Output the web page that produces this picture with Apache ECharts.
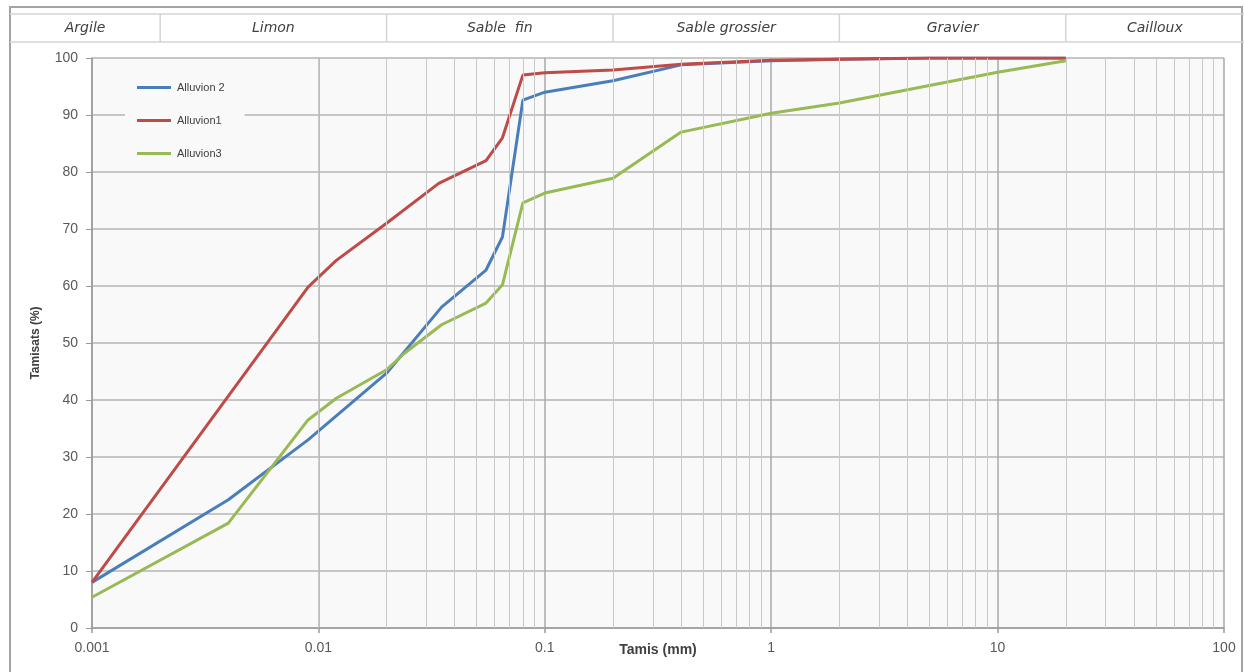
<!DOCTYPE html>
<html>
<head>
<meta charset="utf-8">
<script src="https://cdn.jsdelivr.net/npm/echarts@6/dist/echarts.min.js"></script>
<style>
  html, body { margin: 0; padding: 0; background: #ffffff; }
  #chart { width: 1244px; height: 672px; }
</style>
</head>
<body>
<div id="chart"></div>
<script>
// Grain-size distribution curves (passing % vs sieve size in mm)
const alluvion2Sizes = [0.001, 0.004, 0.009, 0.02, 0.035, 0.055, 0.065, 0.08, 0.1, 0.2, 0.4, 1, 2, 5, 20];
const alluvion2Pass  = [8, 22.5, 33, 44.7, 56.3, 62.8, 68.6, 92.6, 94, 96, 98.8, 99.5, 99.8, 100, 100];

const alluvion1Sizes = [0.001, 0.009, 0.012, 0.02, 0.034, 0.055, 0.065, 0.08, 0.1, 0.2, 0.4, 1, 2, 5, 20];
const alluvion1Pass  = [8, 59.8, 64.5, 71, 78, 82, 86, 97, 97.4, 97.9, 98.9, 99.6, 99.8, 100, 100];

const alluvion3Sizes = [0.001, 0.004, 0.009, 0.012, 0.02, 0.024, 0.035, 0.055, 0.065, 0.08, 0.1, 0.2, 0.4, 1, 2, 10, 20];
const alluvion3Pass  = [5.4, 18.4, 36.5, 40.3, 45.3, 48.2, 53.2, 57, 60.2, 74.6, 76.3, 78.9, 87, 90.3, 92.1, 97.5, 99.5];

const seriesNames  = ['Alluvion 2', 'Alluvion1', 'Alluvion3'];
const seriesColors = ['#4A7EBB', '#BE4B48', '#98B954'];

// Axis ticks
const xTickValues = [0.001, 0.01, 0.1, 1, 10, 100];
const xTickLabels = ['0.001', '0.01', '0.1', '1', '10', '100'];

// Soil classes along the size axis
const classNames  = ['Argile', 'Limon', 'Sable  fin', 'Sable grossier', 'Gravier', 'Cailloux'];
const classLimits = [0.002, 0.02, 0.2, 2, 20];

// Intermediate log grid lines (2..9 within each decade)
const minorGrid = [];
for (let e = -3; e < 2; e++) {
  for (let m = 2; m <= 9; m++) minorGrid.push(+(m * Math.pow(10, e)).toPrecision(3));
}

const pairs = (xs, ys) => xs.map((x, i) => [x, ys[i]]);

const chart = echarts.init(document.getElementById('chart'), null, { renderer: 'canvas' });

const axisFont = 'Liberation Sans, Arial, sans-serif';

const lineSeries = [
  [alluvion2Sizes, alluvion2Pass],
  [alluvion1Sizes, alluvion1Pass],
  [alluvion3Sizes, alluvion3Pass]
].map(([xs, ys], i) => ({
  name: seriesNames[i],
  type: 'line',
  data: pairs(xs, ys),
  showSymbol: false,
  symbol: 'none',
  smooth: false,
  z: 3,
  lineStyle: { color: seriesColors[i], width: 3 },
  itemStyle: { color: seriesColors[i] },
  animation: false
}));

// minor vertical grid drawn as mark lines under the curves
lineSeries[0].markLine = {
  silent: true,
  symbol: 'none',
  animation: false,
  label: { show: false },
  lineStyle: { color: '#c9c9c9', width: 1, type: 'solid' },
  emphasis: { disabled: true },
  data: minorGrid.map(v => ({ xAxis: v }))
};

chart.setOption({
  animation: false,
  backgroundColor: '#ffffff',
  grid: {
    left: 92, right: 20, top: 58, bottom: 44,
    show: true, backgroundColor: '#f9f9f9', borderWidth: 0
  },
  legend: {
    data: seriesNames,
    orient: 'vertical',
    left: 125, top: 70,
    padding: [12, 20, 12, 12],
    backgroundColor: '#f9f9f9',
    itemWidth: 34, itemHeight: 3, itemGap: 22,
    icon: 'rect',
    selectedMode: false,
    textStyle: { fontFamily: axisFont, fontSize: 11, color: '#404040', padding: [0, 0, 0, 1] }
  },
  xAxis: {
    type: 'log',
    logBase: 10,
    min: 0.001, max: 100,
    name: 'Tamis (mm)',
    nameLocation: 'middle',
    nameGap: 15,
    nameMoveOverlap: false,
    nameTextStyle: { fontFamily: axisFont, fontSize: 14, fontWeight: 'bold', color: '#404040', verticalAlign: 'top' },
    axisLine: { show: true, lineStyle: { color: '#9a9a9a', width: 1.5 } },
    axisTick: { show: true, inside: false, length: 5, lineStyle: { color: '#9a9a9a', width: 1.5 } },
    minorTick: { show: false },
    axisLabel: {
      margin: 13,
      fontFamily: axisFont, fontSize: 14, color: '#595959',
      formatter: v => {
        let best = 0, d = Infinity;
        xTickValues.forEach((t, i) => {
          const dd = Math.abs(Math.log10(v) - Math.log10(t));
          if (dd < d) { d = dd; best = i; }
        });
        return xTickLabels[best];
      }
    },
    splitLine: { show: true, lineStyle: { color: '#a9a9a9', width: 1.5 } }
  },
  yAxis: {
    type: 'value',
    min: 0, max: 100, interval: 10,
    name: 'Tamisats (%)',
    nameLocation: 'middle',
    nameGap: 50,
    nameRotate: 90,
    nameMoveOverlap: false,
    nameTextStyle: { fontFamily: axisFont, fontSize: 12, fontWeight: 'bold', color: '#404040' },
    axisLine: { show: true, lineStyle: { color: '#9a9a9a', width: 1.5 } },
    axisTick: { show: true, inside: false, length: 6, lineStyle: { color: '#9a9a9a', width: 1 } },
    axisLabel: { margin: 14, fontFamily: axisFont, fontSize: 14, color: '#595959' },
    splitLine: { show: true, lineStyle: { color: '#b4b4b4', width: 1.5 } }
  },
  series: lineSeries
});

// Header strip with soil class names, split at the class limits
function drawHeader() {
  const leftEdge = 10, rightEdge = 1244, top = 14, bottom = 42;
  const xs = classLimits.map(v => chart.convertToPixel({ xAxisIndex: 0 }, v));
  const edges = [leftEdge].concat(xs, [rightEdge]);
  const g = [];
  // outer frame
  g.push({
    type: 'rect', silent: true, z: 10,
    shape: { x: 10, y: 7, width: 1232, height: 700 },
    style: { fill: null, stroke: '#a3a3a3', lineWidth: 2 }
  });
  [top, bottom].forEach(y => g.push({
    type: 'line', silent: true, z: 10,
    shape: { x1: leftEdge, y1: y, x2: rightEdge, y2: y },
    style: { stroke: '#d4d4d4', lineWidth: 1.5 }
  }));
  xs.forEach(x => g.push({
    type: 'line', silent: true, z: 10,
    shape: { x1: x, y1: top, x2: x, y2: bottom },
    style: { stroke: '#d4d4d4', lineWidth: 1.5 }
  }));
  classNames.forEach((name, i) => g.push({
    type: 'text', silent: true, z: 11,
    x: (edges[i] + edges[i + 1]) / 2,
    y: (top + bottom) / 2,
    style: {
      text: name,
      fontFamily: 'DejaVu Sans, sans-serif',
      fontStyle: 'italic',
      fontSize: 14,
      fill: '#404040',
      align: 'center',
      verticalAlign: 'middle'
    }
  }));
  chart.setOption({ graphic: g });
}
drawHeader();
</script>
</body>
</html>
